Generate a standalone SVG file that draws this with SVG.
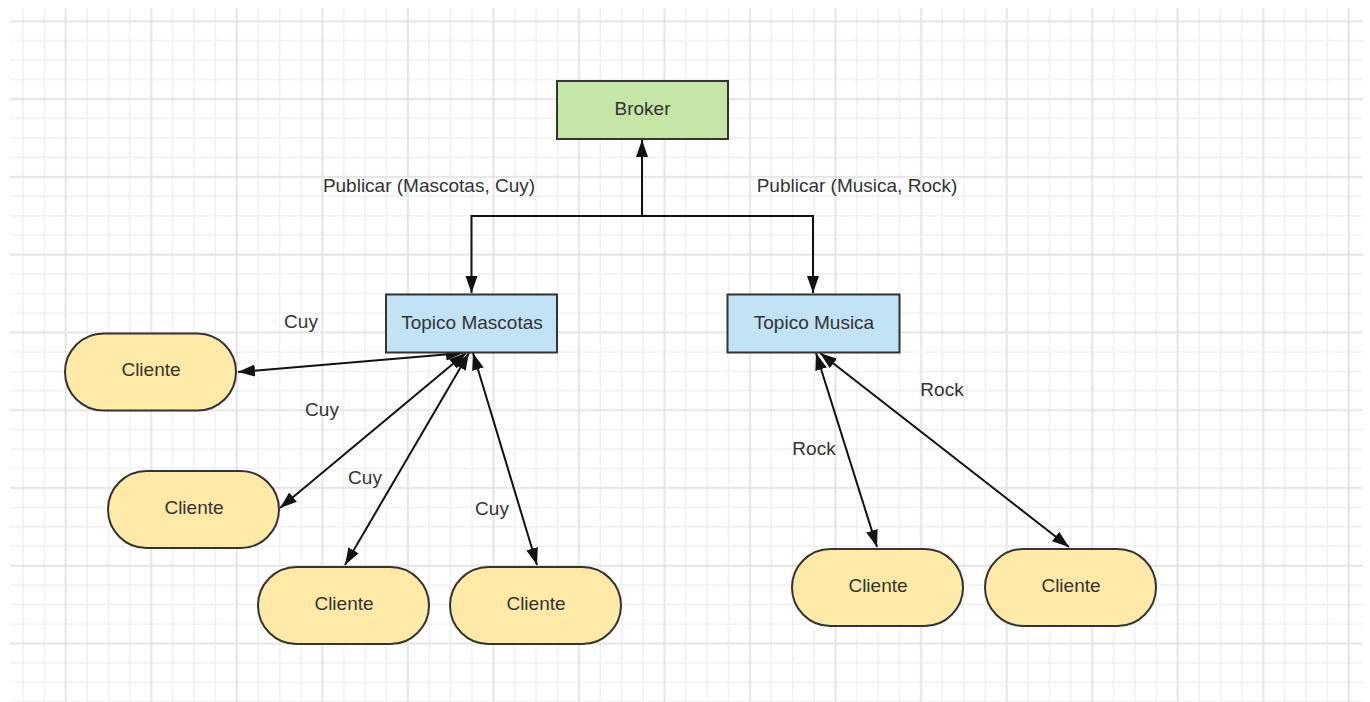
<svg xmlns="http://www.w3.org/2000/svg" width="1370" height="702" viewBox="0 0 1370 702">
  <style>
    .lbl { font-family: "Liberation Sans", Arial, sans-serif; font-size: 19px; fill: #333; text-anchor: middle; }
    .broker { fill: #c5e6a6; stroke: #333; stroke-width: 2; }
    .topic { fill: #c2e2f5; stroke: #333; stroke-width: 2; }
    .client { fill: #fee9a6; stroke: #333; stroke-width: 2; }
    .conn { fill: none; stroke: #111; stroke-width: 2; }
    .minor { stroke: #f0f0f0; stroke-width: 1.5; }
    .major { stroke: #e4e4e4; stroke-width: 2; }
  </style>
  <defs>
    <pattern id="grid" patternUnits="userSpaceOnUse" x="55.01" y="11.58" width="85.54" height="77.77">
      <line class="minor" x1="32.08" y1="0" x2="32.08" y2="77.77"/>
      <line class="minor" x1="53.46" y1="0" x2="53.46" y2="77.77"/>
      <line class="minor" x1="74.85" y1="0" x2="74.85" y2="77.77"/>
      <line class="minor" x1="0" y1="29.16" x2="85.54" y2="29.16"/>
      <line class="minor" x1="0" y1="48.6" x2="85.54" y2="48.6"/>
      <line class="minor" x1="0" y1="68.05" x2="85.54" y2="68.05"/>
      <line class="major" x1="10.69" y1="0" x2="10.69" y2="77.77"/>
      <line class="major" x1="0" y1="9.72" x2="85.54" y2="9.72"/>
    </pattern>
    <marker id="head" markerUnits="userSpaceOnUse" markerWidth="18" markerHeight="13" refX="17" refY="6" orient="auto-start-reverse">
      <path d="M0,0 L17,6 L0,12 z" fill="#111"/>
    </marker>
  </defs>

  <rect width="1370" height="702" fill="#fff"/>
  <rect x="10" y="8" width="1353" height="694" fill="url(#grid)"/>

  <!-- connectors -->
  <g id="connectors">
    <path class="conn" d="M642,216 V140" marker-end="url(#head)"/>
    <path class="conn" d="M471.5,293 V216 H813 V293" marker-start="url(#head)" marker-end="url(#head)"/>
    <line class="conn" x1="238" y1="372" x2="463" y2="353" marker-start="url(#head)" marker-end="url(#head)"/>
    <line class="conn" x1="280" y1="508" x2="466" y2="353" marker-start="url(#head)" marker-end="url(#head)"/>
    <line class="conn" x1="345" y1="565" x2="469" y2="353" marker-start="url(#head)" marker-end="url(#head)"/>
    <line class="conn" x1="537" y1="565" x2="473" y2="353" marker-start="url(#head)" marker-end="url(#head)"/>
    <line class="conn" x1="877" y1="547" x2="816" y2="353" marker-start="url(#head)" marker-end="url(#head)"/>
    <line class="conn" x1="1069" y1="547" x2="820" y2="353" marker-start="url(#head)" marker-end="url(#head)"/>

    <text class="lbl" x="429" y="192">Publicar (Mascotas, Cuy)</text>
    <text class="lbl" x="857" y="192">Publicar (Musica, Rock)</text>
    <text class="lbl" x="301" y="328">Cuy</text>
    <text class="lbl" x="322" y="416">Cuy</text>
    <text class="lbl" x="365" y="484">Cuy</text>
    <text class="lbl" x="492" y="515">Cuy</text>
    <text class="lbl" x="942" y="396">Rock</text>
    <text class="lbl" x="814" y="455">Rock</text>
  </g>

  <g id="broker">
    <rect class="broker" x="557" y="81" width="171" height="58"/>
    <text class="lbl" x="642.5" y="114.5">Broker</text>
  </g>

  <g id="topico-mascotas">
    <rect class="topic" x="386" y="294.5" width="171" height="58"/>
    <text class="lbl" x="472" y="328.5">Topico Mascotas</text>
  </g>

  <g id="topico-musica">
    <rect class="topic" x="727.5" y="294.5" width="172" height="58"/>
    <text class="lbl" x="814" y="328.5">Topico Musica</text>
  </g>

  <g id="cliente-1">
    <rect class="client" x="65" y="333.5" width="171" height="77" rx="38.5"/>
    <text class="lbl" x="151" y="376">Cliente</text>
  </g>
  <g id="cliente-2">
    <rect class="client" x="108" y="471" width="171" height="77" rx="38.5"/>
    <text class="lbl" x="194" y="513.5">Cliente</text>
  </g>
  <g id="cliente-3">
    <rect class="client" x="258" y="567" width="171" height="77" rx="38.5"/>
    <text class="lbl" x="344" y="609.5">Cliente</text>
  </g>
  <g id="cliente-4">
    <rect class="client" x="450" y="567" width="171" height="77" rx="38.5"/>
    <text class="lbl" x="536" y="609.5">Cliente</text>
  </g>
  <g id="cliente-5">
    <rect class="client" x="792" y="549" width="171" height="77" rx="38.5"/>
    <text class="lbl" x="878" y="591.5">Cliente</text>
  </g>
  <g id="cliente-6">
    <rect class="client" x="985" y="549" width="171" height="77" rx="38.5"/>
    <text class="lbl" x="1071" y="591.5">Cliente</text>
  </g>
</svg>
